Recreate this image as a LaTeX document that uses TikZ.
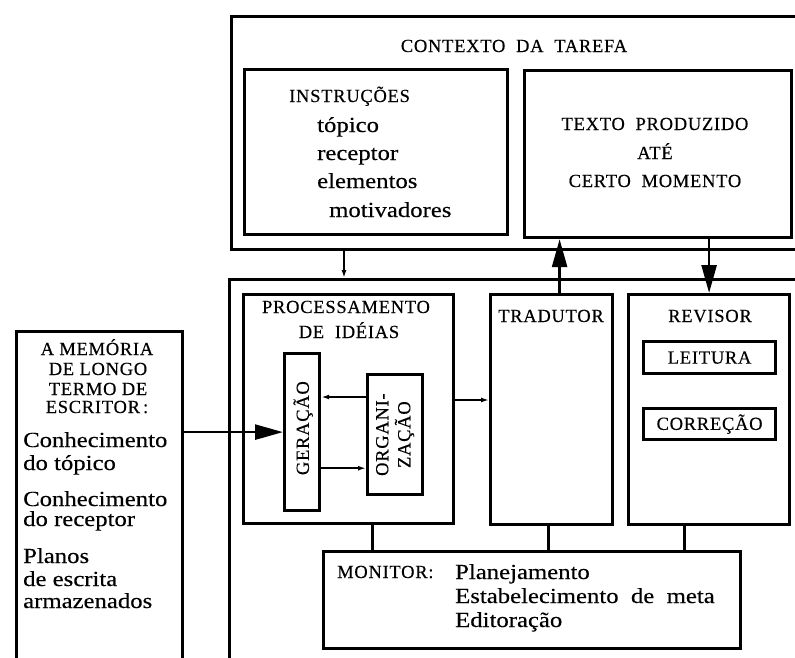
\documentclass[tikz,border=0pt]{standalone}
\usepackage{fontspec}
\usepackage{tikz}
\usetikzlibrary{arrows.meta}
\setmainfont[FakeStretch=1.15, FakeBold=0.3]{Liberation Serif}
\newfontfamily\spacedcaps[LetterSpace=4, FakeBold=0.3]{Liberation Serif}
\newcommand\capsz{\spacedcaps\fontsize{18.5}{21}\selectfont}
\newcommand\lowsz{\fontsize{21.5}{23}\selectfont}

\begin{document}
\begin{tikzpicture}[x=1pt, y=-1pt,
    box/.style={draw, line width=3.2pt, inner sep=0pt, anchor=north west},
    lbl/.style={font=\capsz, inner sep=0pt, anchor=base},
    txt/.style={font=\lowsz, inner sep=0pt, anchor=base west},
    conn/.style={line width=3.2pt},
    big/.style={line width=2.6pt, -{Triangle[length=28pt, width=15pt]}},
    small/.style={line width=2.2pt, -{Latex[length=8pt, width=5pt]}}
    ]
    \useasboundingbox (0,0) rectangle (795,657);
    \clip (0,0) rectangle (795,657);

    % Contexto da tarefa
    \node[box, minimum width=600pt, minimum height=233pt] (ctx) at (230,15) {};
    \node[lbl] (ctxtitle) at (514,52) {CONTEXTO\ \ DA\ \ TAREFA};
    \node[box, minimum width=263pt, minimum height=165pt] (instr) at (243,68) {};
    \node[lbl, anchor=base west] (instrtitle) at (289,102) {INSTRUÇÕES};
    \node[txt] (instr1) at (317,132) {tópico};
    \node[txt] (instr2) at (317,160) {receptor};
    \node[txt] (instr3) at (317,188) {elementos};
    \node[txt] (instr4) at (329,217) {motivadores};
    \node[box, minimum width=267pt, minimum height=167pt] (texto) at (523,69) {};
    \node[lbl] (texto1) at (655,130) {TEXTO\ \ PRODUZIDO};
    \node[lbl] (texto2) at (655,159) {ATÉ};
    \node[lbl] (texto3) at (655,187) {CERTO\ \ MOMENTO};

    % Memoria de longo termo
    \node[box, minimum width=166pt, minimum height=400pt] (mem) at (15,330) {};
    \node[lbl] (mem1) at (97,355) {A MEMÓRIA};
    \node[lbl] (mem2) at (98,375) {DE LONGO};
    \node[lbl] (mem3) at (98,395) {TERMO DE};
    \node[lbl] (mem4) at (97,413) {ESCRITOR\,:};
    \node[txt] (memA) at (23,447) {Conhecimento};
    \node[txt] (memB) at (23,470) {do tópico};
    \node[txt] (memC) at (23,506) {Conhecimento};
    \node[txt] (memD) at (23,526) {do receptor};
    \node[txt] (memE) at (23,563) {Planos};
    \node[txt] (memF) at (23,586) {de escrita};
    \node[txt] (memG) at (23,608) {armazenados};

    % Processo de escrita
    \node[box, minimum width=600pt, minimum height=450pt] (escr) at (228,278) {};
    \node[box, minimum width=210pt, minimum height=229pt] (proc) at (242,293) {};
    \node[lbl] (proc1) at (346,313) {PROCESSAMENTO};
    \node[lbl] (proc2) at (349,338) {DE\ \ IDÉIAS};
    \node[box, minimum width=35pt, minimum height=157pt] (ger) at (283,352) {};
    \node[font=\capsz, inner sep=0pt, rotate=90] (gertext) at ([xshift=1pt, yshift=4pt]ger.center) {GERAÇÃO};
    \node[box, minimum width=55pt, minimum height=120pt] (org) at (366,373) {};
    \node[font=\capsz, inner sep=0pt, rotate=90, align=center] (orgtext) at (org.center) {ORGANI-\\[1pt]ZAÇÃO};
    \node[box, minimum width=122pt, minimum height=230pt] (trad) at (489,293) {};
    \node[lbl] (tradtitle) at (551,322) {TRADUTOR};
    \node[box, minimum width=161pt, minimum height=230pt] (rev) at (627,293) {};
    \node[lbl] (revtitle) at (710,322) {REVISOR};
    \node[box, font=\capsz, minimum width=132pt, minimum height=32pt] (leit) at (642,340) {LEITURA};
    \node[box, font=\capsz, minimum width=132pt, minimum height=31pt] (corr) at (642,407) {CORREÇÃO};

    % Monitor
    \node[box, minimum width=417pt, minimum height=97pt] (mon) at (322,550) {};
    \node[lbl, anchor=base west] (montitle) at (337,578) {MONITOR:};
    \node[txt] (mon1) at (455,579) {Planejamento};
    \node[txt] (mon2) at (455,603) {Estabelecimento\ \ de\ \ meta};
    \node[txt] (mon3) at (455,627) {Editoração};

    % Setas
    \coordinate (ctxout) at (344,248);
    \draw[small] (ctxout) -- (ctxout |- escr.north);
    \coordinate (tradout) at ([xshift=8pt]trad.north);
    \draw[big] (tradout) -- (tradout |- texto.south);
    \draw[big] (rev.north |- texto.south) -- (rev.north);
    \draw[big] (mem.east |- ger.west) -- (ger.west);
    \coordinate (orgin) at ([yshift=-24pt]org.north west);
    \draw[small] (orgin) -- (orgin -| ger.east);
    \coordinate (orgout) at ([yshift=28pt]org.south west);
    \draw[small] (orgout -| ger.east) -- (orgout);
    \coordinate (procout) at ([yshift=-107pt]proc.north east);
    \draw[small] (procout) -- (procout -| trad.west);

    % Ligacoes ao monitor
    \coordinate (procmon) at ([xshift=24pt]proc.south);
    \draw[conn] (procmon) -- (procmon |- mon.north);
    \coordinate (tradmon) at ([xshift=-3pt]trad.south);
    \draw[conn] (tradmon) -- (tradmon |- mon.north);
    \coordinate (revmon) at ([xshift=-25pt]rev.south);
    \draw[conn] (revmon) -- (revmon |- mon.north);
\end{tikzpicture}
\end{document}
